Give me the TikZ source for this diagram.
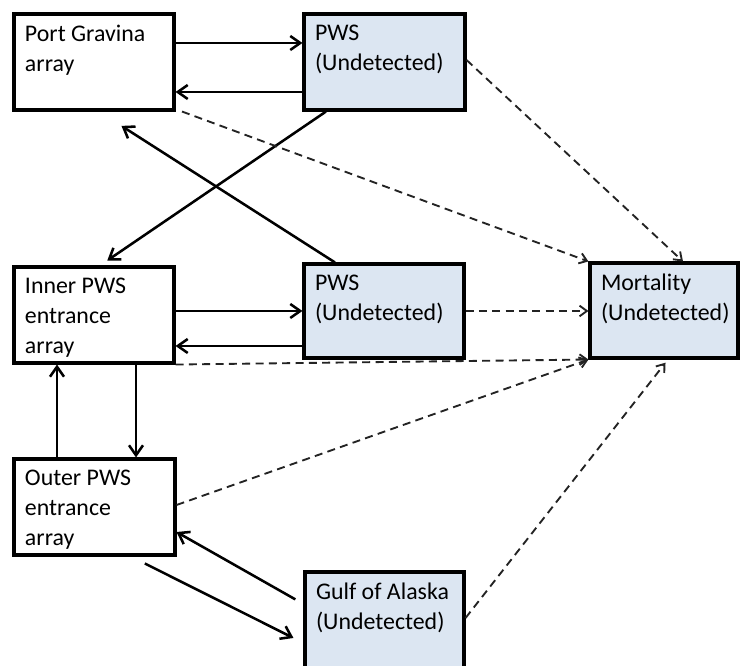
\documentclass[tikz,border=0pt]{standalone}
\usepackage{fontspec}
\setmainfont{Carlito}
\usetikzlibrary{arrows.meta}
\definecolor{pale}{RGB}{220,230,242}
\definecolor{dashcol}{RGB}{35,35,35}
\newcommand{\btx}[3]{\parbox[c][#2][t]{#1}{\raggedright #3}}
\begin{document}
\begin{tikzpicture}[x=0.75pt,y=-0.75pt,
  bx/.style={draw=black, line width=2.3pt, inner sep=8.25pt, font=\fontsize{17.9}{22.5}\selectfont},
  wbox/.style={bx, fill=white},
  bbox/.style={bx, fill=pale},
  sarr/.style={line width=1.9pt, -{Straight Barb[length=7.5pt,width=10.5pt]}},
  darr/.style={line width=1.4pt, dashcol, dash pattern=on 6pt off 4pt, -{Straight Barb[length=5.5pt,width=8pt]}}]
\useasboundingbox (0,0) rectangle (740,666);
\clip (0,0) rectangle (740,666);
\fill[white] (0,0) rectangle (740,666);
% boxes
\node[wbox] (pg) at (94,62) {\btx{103.5pt}{55.5pt}{Port Gravina\\array}};
\node[bbox] (pws1) at (384.5,62) {\btx{104.25pt}{55.5pt}{PWS\\(Undetected)}};
\node[wbox] (inner) at (94,315) {\btx{103.5pt}{55.5pt}{Inner PWS\\entrance\\array}};
\node[bbox] (pws2) at (384,311) {\btx{103.5pt}{54pt}{PWS\\(Undetected)}};
\node[bbox] (mort) at (664,310.5) {\btx{94.5pt}{54.75pt}{Mortality\\(Undetected)}};
\node[wbox] (outer) at (94.5,507) {\btx{104.25pt}{55.5pt}{Outer PWS\\entrance\\array}};
\node[bbox] (gulf) at (384.5,621) {\btx{102.75pt}{57pt}{Gulf of Alaska\\(Undetected)}};
% solid connectors
\draw[sarr] (pg.east |- 0,43) -- (pws1.west |- 0,43);
\draw[sarr] (pws1.west |- 0,92) -- (pg.east |- 0,92);
\draw[sarr, shorten >=6.6pt] (pws1.south -| 326,0) -- (inner.north -| 100,0);
\draw[sarr, shorten >=20pt] (pws2.north -| 335,0) -- (pg.south -| 99,0);
\draw[sarr] (inner.east |- 0,311) -- (pws2.west |- 0,311);
\draw[sarr] (pws2.west |- 0,346) -- (inner.east |- 0,346);
\draw[sarr] (inner.south -| 136,0) -- (outer.north -| 136,0);
\draw[sarr] (outer.north -| 57,0) -- (inner.south -| 57,0);
\draw[sarr, shorten <=7pt] (gulf.west |- 0,604) -- (outer.east |- 0,532);
\draw[sarr, shorten <=11.6pt, shorten >=8.4pt] (outer.south -| 131,0) -- (gulf.west |- 0,643);
% dashed connectors
\draw[darr] (pg.south -| 182,0) -- (mort.north west);
\draw[darr] (pws1.east |- 0,60) -- (mort.north -| 683,0);
\draw[darr] (pws2.east |- 0,311) -- (mort.west |- 0,311);
\draw[darr] (inner.south east) -- (mort.south west);
\draw[darr] (outer.east |- 0,505) -- (mort.south west);
\draw[darr, shorten >=3pt] (gulf.east |- 0,618) -- (mort.south -| 668,0);
\end{tikzpicture}
\end{document}
